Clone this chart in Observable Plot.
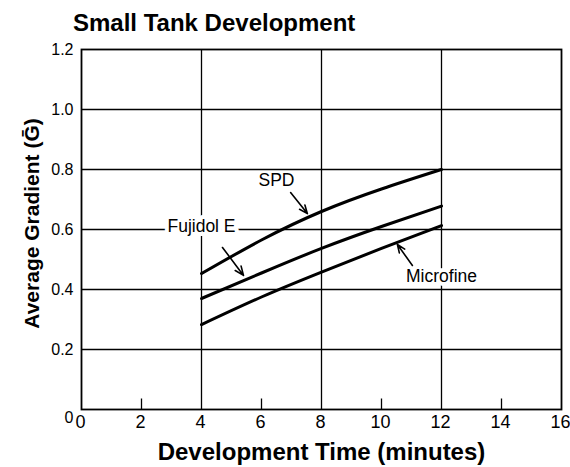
<!DOCTYPE html>
<html><head><meta charset="utf-8">
<script src="https://cdn.jsdelivr.net/npm/d3@7"></script>
<script src="https://cdn.jsdelivr.net/npm/@observablehq/plot@0.6"></script>
<style>
body{margin:0;background:#fff;font-family:"Liberation Sans",Arial,sans-serif;color:#000;}
#title{height:40px;box-sizing:border-box;padding-left:73px;padding-top:11px;font-weight:bold;font-size:24px;line-height:24px;white-space:nowrap;}
</style></head><body>
<div id="title">Small Tank Development</div>
<div id="chart"></div>
<script>
// ---- data ----
const times = [4, 6, 8, 10, 12];
const spd = [0.453, 0.565, 0.66, 0.735, 0.80];
const fujidol = [0.37, 0.455, 0.537, 0.61, 0.678];
const microfine = [0.283, 0.375, 0.458, 0.537, 0.613];
const seriesNames = ["SPD", "Fujidol E", "Microfine"];
const xTicks = [0, 2, 4, 6, 8, 10, 12, 14, 16];
const yTicks = [0.2, 0.4, 0.6, 0.8, 1.0, 1.2];
const gridX = [4, 8, 12];
const gridY = [0.2, 0.4, 0.6, 0.8, 1.0];
const minorX = [2, 6, 10, 14];
const labelX = [6.5, 4.0, 12.0];
const labelY = [0.763, 0.612, 0.445];
const arrowFromX = [6.97, 4.7, 11.03];
const arrowFromY = [0.723, 0.54, 0.48];
const arrowToX = [7.53, 5.4, 10.53];
const arrowToY = [0.653, 0.447, 0.55];
const xTitle = "Development Time (minutes)";
const yTitle = "Average Gradient (\u1E20)";

// ---- tables ----
const seriesValues = [spd, fujidol, microfine];
const rows = seriesNames.flatMap((s, i) => times.map((t, j) => ({series: s, time: t, value: seriesValues[i][j]})));
const labels = seriesNames.map((s, i) => ({name: s, x: labelX[i], y: labelY[i], halo: i > 0}));
const arrows = seriesNames.map((s, i) => ({x1: arrowFromX[i], y1: arrowFromY[i], x2: arrowToX[i], y2: arrowToY[i]}));

const chart = Plot.plot({
  width: 570,
  height: 427,
  marginLeft: 81,
  marginRight: 9,
  marginTop: 9,
  marginBottom: 58,
  style: {fontFamily: "'Liberation Sans', Arial, sans-serif", color: "#000", background: "#fff"},
  x: {domain: [0, 16], label: null},
  y: {domain: [0, 1.2], label: null},
  marks: [
    Plot.ruleY(gridY, {stroke: "#000", strokeWidth: 1.3}),
    Plot.ruleX(gridX, {stroke: "#000", strokeWidth: 1.3}),
    Plot.ruleX(minorX, {x: d => d, y1: 0, y2: 0.035, stroke: "#000", strokeWidth: 1.3}),
    Plot.frame({stroke: "#000", strokeWidth: 1.8}),
    Plot.line(rows, {x: "time", y: "value", z: "series", curve: "natural", stroke: "#000", strokeWidth: 3}),
    Plot.text(labels.filter(d => d.halo), {x: "x", y: "y", text: "name", fontSize: 17.5, fill: "#fff", stroke: "#fff", strokeWidth: 8}),
    Plot.text(labels, {x: "x", y: "y", text: "name", fontSize: 17.5, fill: "#000"}),
    Plot.arrow(arrows, {x1: "x1", y1: "y1", x2: "x2", y2: "y2", stroke: "#000", strokeWidth: 1.6, headLength: 9, headAngle: 45}),
    Plot.axisX(xTicks, {tickSize: 0, tickPadding: 6, dx: -1, fontSize: 18, label: null}),
    Plot.axisY(yTicks, {tickSize: 0, tickPadding: 8, fontSize: 16, tickFormat: d3.format(".1f"), label: null}),
    Plot.axisY([0], {tickSize: 0, tickPadding: 8, dy: 8, fontSize: 16, tickFormat: () => "0", label: null}),
    Plot.text([xTitle], {text: d => d, frameAnchor: "bottom", lineAnchor: "bottom", textAnchor: "middle", dy: 50, fontSize: 24, fontWeight: "bold"}),
    Plot.text([yTitle], {text: d => d, frameAnchor: "left", lineAnchor: "bottom", textAnchor: "middle", rotate: -90, dx: -43, dy: -6, fontSize: 21, fontWeight: "bold"})
  ]
});
document.getElementById("chart").appendChild(chart);
</script>
</body></html>
